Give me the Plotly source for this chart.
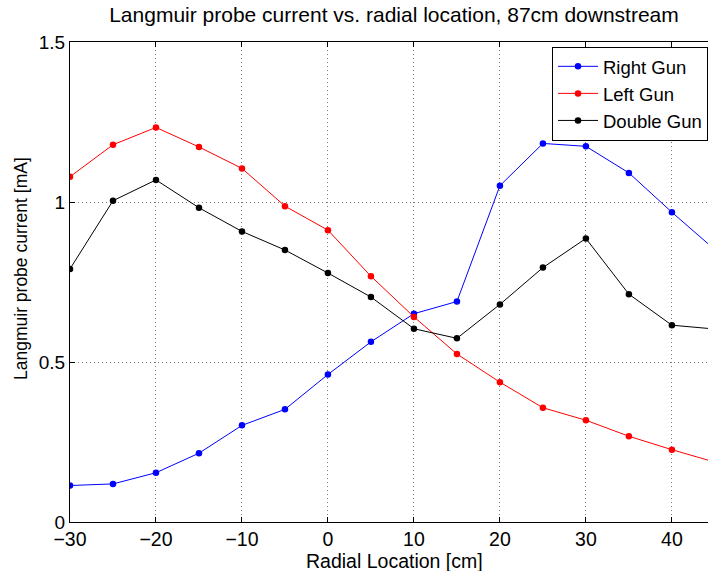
import plotly.graph_objects as go

# Radial probe positions [cm]
radial_cm = [-30, -25, -20, -15, -10, -5, 0, 5, 10, 15, 20, 25, 30, 35, 40, 45]

# Langmuir probe current [mA] for each gun configuration
right_gun = [0.114, 0.119, 0.154, 0.215, 0.302, 0.352, 0.461, 0.563,
             0.651, 0.689, 1.051, 1.183, 1.174, 1.091, 0.968, 0.851]
left_gun = [1.079, 1.179, 1.233, 1.172, 1.105, 0.987, 0.912, 0.768,
            0.641, 0.525, 0.437, 0.357, 0.318, 0.268, 0.226, 0.187]
double_gun = [0.791, 1.004, 1.069, 0.982, 0.908, 0.850, 0.778, 0.703,
              0.604, 0.574, 0.680, 0.795, 0.886, 0.712, 0.615, 0.603]

x_ticks = [-30, -20, -10, 0, 10, 20, 30, 40]
y_ticks = [0, 0.5, 1, 1.5]
y_tick_text = ["0", "0.5", "1", "1.5"]

FONT = "Liberation Sans, Arial, Helvetica, sans-serif"

series = [
    ("Right Gun", right_gun, "#0000ff"),
    ("Left Gun", left_gun, "#ff0000"),
    ("Double Gun", double_gun, "#000000"),
]

fig = go.Figure()
for name, values, color in series:
    fig.add_trace(go.Scatter(
        x=radial_cm, y=values, name=name, mode="lines+markers",
        line=dict(color=color, width=1),
        marker=dict(color=color, size=6.5),
        cliponaxis=True,
    ))

# MATLAB-style dotted grid
grid = dict(showgrid=True, gridcolor="#777777", griddash="1px,3px", gridwidth=1)

fig.update_layout(
    width=708, height=571,
    margin=dict(l=70, r=0, t=42, b=49),
    paper_bgcolor="white", plot_bgcolor="white",
    font=dict(family=FONT, color="black", size=20),
    title=dict(text="Langmuir probe current vs. radial location, 87cm downstream",
               x=(394 - 70) / 638, xref="paper", xanchor="center",
               y=1 - 7 / 571, yanchor="top",
               font=dict(size=21)),
    showlegend=True,
    legend=dict(x=1.0, y=0.99, xanchor="right", yanchor="top",
                bgcolor="white", bordercolor="black", borderwidth=1,
                font=dict(size=18.5), tracegroupgap=0, itemwidth=40),
    xaxis=dict(range=[-30, 44.2], tickvals=x_ticks, ticks="inside", ticklen=5,
               tickcolor="black", showline=True, linecolor="black", linewidth=1,
               mirror="ticks", zeroline=False, tickfont=dict(size=19.5),
               **grid),
    yaxis=dict(range=[0, 1.5], tickvals=y_ticks, ticktext=y_tick_text,
               ticks="inside", ticklen=5, tickcolor="black", showline=True,
               linecolor="black", linewidth=1, zeroline=False,
               tickfont=dict(size=19),
               **grid),
    annotations=[
        dict(text="Radial Location [cm]", xref="paper", yref="paper",
             x=(394.5 - 70) / 638, y=-(548 - 522) / 480, xanchor="center",
             yanchor="top", showarrow=False, font=dict(size=19.5)),
        dict(text="Langmuir probe current [mA]", xref="paper", yref="paper",
             x=-(70 - 9) / 638, y=(522 - 269) / 480, xanchor="left",
             yanchor="middle", textangle=-90, showarrow=False,
             font=dict(size=17.5)),
    ],
)

fig.write_html("out.html")
